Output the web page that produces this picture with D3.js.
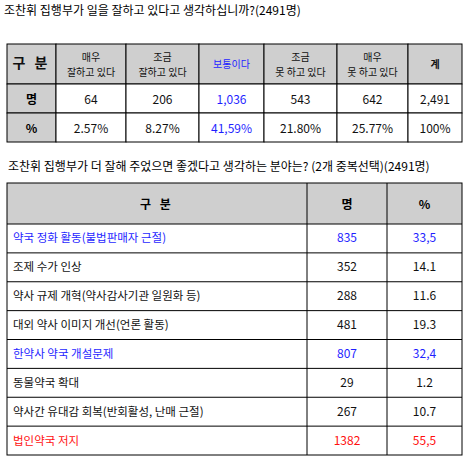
<!DOCTYPE html><html><head><meta charset="utf-8">
<script src="https://cdn.jsdelivr.net/npm/d3@7"></script>
<style>body{margin:0;background:#fff}text{font-family:"Noto Sans CJK KR","Noto Sans",sans-serif}</style></head><body>
<script>
const title1="조찬휘 집행부가 일을 잘하고 있다고 생각하십니까?(2491명)";
const title2="조찬휘 집행부가 더 잘해 주었으면 좋겠다고 생각하는 분야는? (2개 중복선택)(2491명)";
const topHeaders=[["구 분"],["매우","잘하고 있다"],["조금","잘하고 있다"],["보통이다"],["조금","못 하고 있다"],["매우","못 하고 있다"],["계"]];
const topCounts=["64","206","1,036","543","642","2,491"];
const topPcts=["2.57%","8.27%","41,59%","21.80%","25.77%","100%"];
const topHighlight=[false,false,true,false,false,false];
const areas=["약국 정화 활동(불법판매자 근절)","조제 수가 인상","약사 규제 개혁(약사감사기관 일원화 등)","대외 약사 이미지 개선(언론 활동)","한약사 약국 개설문제","동물약국 확대","약사간 유대감 회복(반회활성, 난매 근절)","법인약국 저지"];
const areaCounts=["835","352","288","481","807","29","267","1382"];
const areaPcts=["33,5","14.1","11.6","19.3","32,4","1.2","10.7","55,5"];
const areaColor=["blue","black","black","black","blue","black","black","red"];
const colors={blue:"#1f1fff",black:"#111",red:"#ff1010"};
const svg=d3.select("body").append("svg").attr("width",468).attr("height",461);
const G="#cfcfcf";
svg.append("text").attr("x",4).attr("y",15).attr("font-size",12).text(title1);
const tx=[7,56,126,199,264,337,408,462];
const ty=d3.scaleOrdinal().domain(["h","n","p"]).range([44,84,113]);
const th={h:40,n:29,p:29};
["h","n","p"].forEach(r=>{
  for(let c=0;c<7;c++){
    const gray = r==="h"||c===0;
    svg.append("rect").attr("x",tx[c]).attr("y",ty(r)).attr("width",tx[c+1]-tx[c]).attr("height",th[r])
      .attr("fill",gray?G:"#fff").attr("stroke","#000").attr("stroke-width",1);
    const cx=(tx[c]+tx[c+1])/2, cy=ty(r)+th[r]/2;
    if(r==="h"){
      const lines=topHeaders[c];
      const big=c===0, bold=c===0||c===6;
      lines.forEach((l,i)=>svg.append("text").attr("x",cx).attr("y",cy+(i-(lines.length-1)/2)*15+4)
        .attr("text-anchor","middle").attr("font-size",big?14:10).attr("font-weight",bold?"bold":"normal")
        .attr("letter-spacing",big?3:0)
        .attr("fill",c===3?colors.blue:"#111").text(l));
    } else if(c===0){
      svg.append("text").attr("x",cx).attr("y",cy+5).attr("text-anchor","middle").attr("font-size",12).attr("font-weight","bold").text(r==="n"?"명":"%");
    } else {
      const v=(r==="n"?topCounts:topPcts)[c-1];
      svg.append("text").attr("x",cx).attr("y",cy+5).attr("text-anchor","middle").attr("font-size",12)
        .attr("fill",topHighlight[c-1]?colors.blue:"#111").text(v);
    }
  }
});
svg.append("text").attr("x",8).attr("y",171).attr("font-size",12).text(title2);
const bx=[7,307,387,462];
svg.append("rect").attr("x",7).attr("y",183).attr("width",455).attr("height",41).attr("fill",G);
["구 분","명","%"].forEach((h,c)=>svg.append("text").attr("x",(bx[c]+bx[c+1])/2).attr("y",209).attr("text-anchor","middle")
  .attr("font-size",12).attr("font-weight","bold").attr("letter-spacing",c===0?3:0).text(h));
const y=d3.scaleBand().domain(areas).range([224,455]);
areas.forEach((a,i)=>{
  const y0=y(a), cy=y0+y.bandwidth()/2+4, col=colors[areaColor[i]];
  svg.append("line").attr("x1",7).attr("x2",462).attr("y1",y0).attr("y2",y0).attr("stroke","#000");
  svg.append("text").attr("x",13).attr("y",cy).attr("font-size",11.5).attr("fill",col).text(a);
  svg.append("text").attr("x",347).attr("y",cy).attr("text-anchor","middle").attr("font-size",12).attr("fill",col).text(areaCounts[i]);
  svg.append("text").attr("x",424.5).attr("y",cy).attr("text-anchor","middle").attr("font-size",12).attr("fill",col).text(areaPcts[i]);
});
svg.append("rect").attr("x",7).attr("y",183).attr("width",455).attr("height",272).attr("fill","none").attr("stroke","#000");
[307,387].forEach(x=>svg.append("line").attr("x1",x).attr("x2",x).attr("y1",183).attr("y2",455).attr("stroke","#000"));
</script></body></html>
